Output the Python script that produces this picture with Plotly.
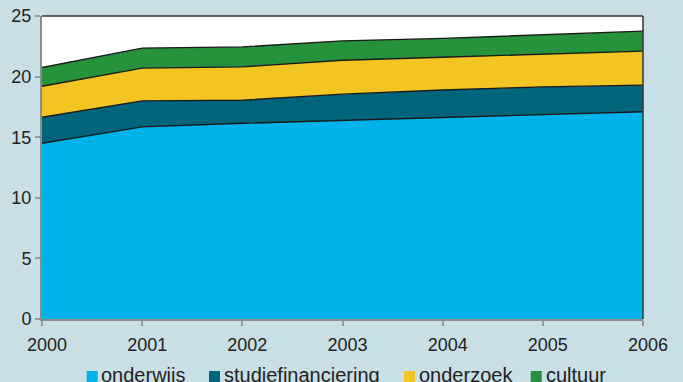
import plotly.graph_objects as go

years = [2000, 2001, 2002, 2003, 2004, 2005, 2006]
onderwijs = [14.5, 15.85, 16.15, 16.4, 16.6, 16.85, 17.1]
studiefinanciering = [2.15, 2.15, 1.9, 2.15, 2.3, 2.3, 2.2]
onderzoek = [2.55, 2.7, 2.75, 2.8, 2.7, 2.7, 2.8]
cultuur = [1.55, 1.65, 1.65, 1.6, 1.55, 1.6, 1.65]
y_ticks = [0, 5, 10, 15, 20, 25]

series = [
    ("onderwijs", onderwijs, "#00b2ea"),
    ("studiefinanciering", studiefinanciering, "#00657b"),
    ("onderzoek", onderzoek, "#f2c523"),
    ("cultuur", cultuur, "#27923c"),
]

W, H = 683, 382
L, R, T, B = 42, 40, 16, 63
pw, ph = W - L - R, H - T - B


def px(x):
    return (x - L) / pw


def py(y):
    return (H - B - y) / ph


fig = go.Figure()
for name, vals, col in series:
    fig.add_trace(go.Scatter(
        x=years, y=vals, name=name, mode="lines", stackgroup="one",
        line=dict(color="#1a1a1a", width=1.4), fillcolor=col, showlegend=False,
    ))

# manual legend (small squares close to the labels)
sq_left = [86.7, 209, 404, 530.7]
txt_left = [101, 224, 419.3, 545.7]
shapes = []
annotations = []
for (name, _, col), sl, tl in zip(series, sq_left, txt_left):
    shapes.append(dict(type="rect", xref="paper", yref="paper",
                       x0=px(sl), x1=px(sl + 11), y0=py(382), y1=py(371),
                       fillcolor=col, line=dict(width=0)))
    annotations.append(dict(text=name, xref="paper", yref="paper",
                            x=px(tl - 1), y=py(374.5), xanchor="left", yanchor="middle",
                            showarrow=False, borderpad=0,
                            font=dict(size=20, color="#222")))

# dark top and right frame
shapes.append(dict(type="line", xref="paper", yref="paper", x0=0, x1=1, y0=1, y1=1,
                   line=dict(color="#333", width=1.5)))
shapes.append(dict(type="line", xref="paper", yref="paper", x0=1, x1=1, y0=0, y1=1,
                   line=dict(color="#333", width=1.5)))

fig.update_layout(
    width=W, height=H,
    paper_bgcolor="#c8dfe6", plot_bgcolor="white",
    margin=dict(l=L, r=R, t=T, b=B, autoexpand=False),
    font=dict(family="Liberation Sans, Arial, sans-serif", size=18, color="#222"),
    showlegend=False,
    shapes=shapes, annotations=annotations,
    xaxis=dict(range=[2000, 2006], tickvals=years, ticks="outside", ticklen=5,
               tickcolor="#999", tickwidth=1.5, showline=True, linecolor="#8c8c8c",
               linewidth=2, showgrid=False, zeroline=False,
               ticklabelshift=5, ticklabelstandoff=3),
    yaxis=dict(range=[0, 25], tickvals=y_ticks, ticks="outside",
               ticklen=5, tickcolor="#999", tickwidth=1.5, showline=True,
               linecolor="#8c8c8c", linewidth=2, showgrid=False, zeroline=False,
               ticklabelshift=0),
)

fig.write_html(
    "out.html",
    config={"displayModeBar": False},
    post_script="document.body.style.margin='0';document.body.style.overflow='hidden';",
)
